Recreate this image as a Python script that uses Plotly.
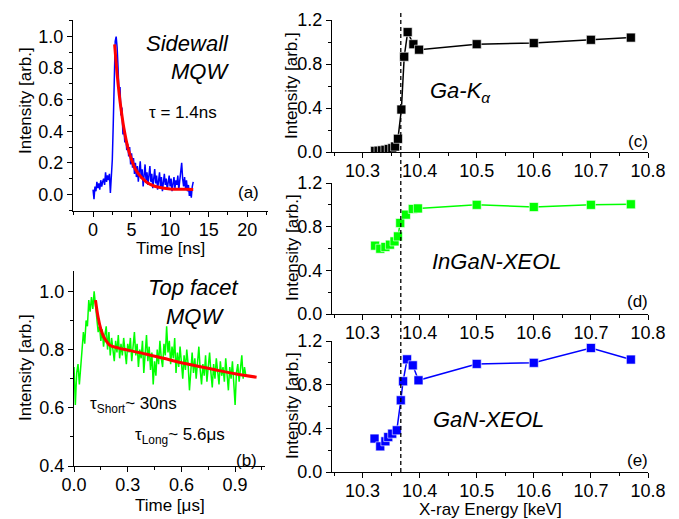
import numpy as np
import plotly.graph_objects as go

# ---------------- data ----------------
# (a) Sidewall MQW transient (time in ns, step 0.125 ns)
a_t0, a_dt = 0.0, 0.125
a_vals = [0.03, -0.03, 0.05, 0.02, 0.08, 0.04, 0.07, 0.03, 0.09, 0.05,
          0.08, 0.10, 0.06, 0.14, 0.08, 0.12, 0.09, 0.13, 0.01, 0.10,
          0.22, 0.45, 0.78, 0.97, 1.00, 0.93, 0.80, 0.62, 0.68, 0.50,
          0.55, 0.38, 0.42, 0.33, 0.36, 0.28, 0.32, 0.24, 0.30, 0.19,
          0.26, 0.17, 0.23, 0.13, 0.20, 0.11, 0.18, 0.08, 0.15, 0.21,
          0.10, 0.16, 0.05, 0.12, 0.19, 0.09, 0.14, 0.06, 0.11, 0.18,
          0.08, 0.13, 0.04, 0.10, 0.16, 0.07, 0.12, 0.03, 0.09, 0.14,
          0.05, 0.11, 0.02, 0.08, 0.13, 0.06, 0.10, 0.03, 0.09, 0.12,
          0.05, 0.10, 0.02, 0.08, 0.11, 0.04, 0.09, 0.06, 0.12, 0.03,
          0.08, 0.15, 0.20, 0.10, 0.05, 0.11, 0.04, 0.09, 0.02, 0.06,
          -0.01, 0.03, -0.02, 0.05, 0.08]
a_fit_t = [2.8, 3.0, 3.25, 3.5, 3.75, 4.0, 4.5, 5.0, 5.5, 6.0, 6.5, 7.0, 8.0, 9.0, 10.0, 11.0, 12.0, 13.0]
a_fit_y = [0.95, 0.83, 0.70, 0.59, 0.50, 0.42, 0.30, 0.22, 0.16, 0.124, 0.097, 0.076, 0.052, 0.041, 0.035, 0.033, 0.032, 0.031]

# (b) Top facet MQW transient (time in us, step 0.0075 us)
b_t0, b_dt = 0.0, 0.0075
b_vals = [0.74, 0.61, 0.72, 0.75, 0.68, 0.73, 0.80, 0.86, 0.82, 0.90,
          0.88, 0.97, 0.93, 0.98, 0.94, 1.00, 0.95, 0.90, 0.86, 0.88,
          0.83, 0.87, 0.81, 0.85, 0.88, 0.80, 0.86, 0.78, 0.84, 0.80,
          0.76, 0.83, 0.79, 0.85, 0.77, 0.82, 0.78, 0.84, 0.80, 0.75,
          0.82, 0.79, 0.84, 0.76, 0.81, 0.86, 0.78, 0.82, 0.74, 0.80,
          0.77, 0.83, 0.72, 0.79, 0.85, 0.76, 0.81, 0.73, 0.79, 0.68,
          0.76, 0.71, 0.80, 0.75, 0.83, 0.77, 0.74, 0.82, 0.78, 0.88,
          0.79, 0.83, 0.75, 0.81, 0.77, 0.84, 0.72, 0.79, 0.74, 0.81,
          0.76, 0.70, 0.78, 0.73, 0.80, 0.75, 0.66, 0.74, 0.79, 0.72,
          0.77, 0.70, 0.76, 0.81, 0.73, 0.68, 0.75, 0.71, 0.78, 0.69,
          0.74, 0.79, 0.72, 0.67, 0.75, 0.70, 0.77, 0.73, 0.68, 0.76,
          0.71, 0.74, 0.69, 0.77, 0.72, 0.66, 0.74, 0.70, 0.76, 0.68,
          0.61, 0.72, 0.75, 0.69, 0.73, 0.78, 0.70, 0.74, 0.71]
b_fit_t = [0.12, 0.135, 0.15, 0.165, 0.18, 0.2, 0.25, 0.3, 0.4, 0.5, 0.6, 0.7, 0.8, 0.9, 1.02]
b_fit_y = [0.97, 0.91, 0.87, 0.845, 0.83, 0.815, 0.805, 0.798, 0.785, 0.77, 0.755, 0.742, 0.729, 0.717, 0.705]

# (c) Ga-K alpha
c_x = [10.322, 10.328, 10.334, 10.340, 10.346, 10.352, 10.357, 10.362, 10.368,
       10.373, 10.379, 10.389, 10.399, 10.5, 10.6, 10.7, 10.77]
c_y = [0.01, 0.012, 0.015, 0.02, 0.027, 0.035, 0.05, 0.12, 0.386,
       0.866, 1.09, 0.98, 0.93, 0.98, 0.99, 1.02, 1.04]

# (d) InGaN-XEOL
d_x = [10.322, 10.331, 10.340, 10.348, 10.356, 10.362, 10.366, 10.376, 10.388,
       10.397, 10.5, 10.6, 10.7, 10.77]
d_y = [0.626, 0.598, 0.614, 0.635, 0.665, 0.711, 0.834, 0.91, 0.962,
       0.967, 1.0, 0.98, 1.0, 1.005]

# (e) GaN-XEOL
e_x = [10.321, 10.331, 10.340, 10.345, 10.352, 10.360, 10.367, 10.371, 10.378,
       10.388, 10.398, 10.5, 10.6, 10.7, 10.77]
e_y = [0.306, 0.235, 0.281, 0.32, 0.351, 0.382, 0.657, 0.831, 1.032,
       0.977, 0.84, 0.99, 1.0, 1.136, 1.03]

edge_energy = 10.367

a_t = a_t0 + a_dt * np.arange(len(a_vals))
b_t = b_t0 + b_dt * np.arange(len(b_vals))

# ---------------- figure ----------------
W, H = 679, 519
FONT = "Arial, Liberation Sans, sans-serif"

def px_x(p):
    return p / W

def px_y(p):
    return 1 - p / H

fig = go.Figure()

fig.add_trace(go.Scatter(x=a_t, y=a_vals, mode="lines", line=dict(color="#0000FF", width=1.5),
                         xaxis="x", yaxis="y", showlegend=False))
fig.add_trace(go.Scatter(x=a_fit_t, y=a_fit_y, mode="lines", line=dict(color="#FF0000", width=3, shape="spline"),
                         xaxis="x", yaxis="y", showlegend=False))
fig.add_trace(go.Scatter(x=b_t, y=b_vals, mode="lines", line=dict(color="#00FF00", width=1.5),
                         xaxis="x2", yaxis="y2", showlegend=False))
fig.add_trace(go.Scatter(x=b_fit_t, y=b_fit_y, mode="lines", line=dict(color="#FF0000", width=3, shape="spline"),
                         xaxis="x2", yaxis="y2", showlegend=False))

mk = dict(symbol="square", size=9, line=dict(width=0.6, color="white"))
fig.add_trace(go.Scatter(x=c_x, y=c_y, mode="lines+markers", line=dict(color="black", width=1.5),
                         marker=dict(color="black", **mk), xaxis="x3", yaxis="y3", showlegend=False))
fig.add_trace(go.Scatter(x=d_x, y=d_y, mode="lines+markers", line=dict(color="#00FF00", width=1.5),
                         marker=dict(color="#00FF00", **mk), xaxis="x4", yaxis="y4", showlegend=False))
fig.add_trace(go.Scatter(x=e_x, y=e_y, mode="lines+markers", line=dict(color="#0000FF", width=1.5),
                         marker=dict(color="#0000FF", **mk), xaxis="x5", yaxis="y5", showlegend=False))

tickfont = dict(family=FONT, size=18, color="black")
titlefont = dict(family=FONT, size=17, color="black")

def ax(**kw):
    base = dict(showline=True, linecolor="black", linewidth=1.3, ticks="outside", ticklen=5,
                tickwidth=1.3, tickcolor="black", showgrid=False, zeroline=False,
                tickfont=tickfont, mirror=False, automargin=False)
    base.update(kw)
    return base

def xax(**kw):
    return ax(ticklabelstandoff=-3, **kw)

minor = lambda d: dict(dtick=d, ticks="outside", ticklen=3, tickcolor="black", tickwidth=1)

ydom_a = [px_y(211), px_y(20)]
ydom_b = [px_y(466), px_y(271)]
xdom_l = [px_x(73), px_x(268)]
xdom_r = [px_x(332), px_x(648)]
ydom_c = [px_y(152), px_y(20)]
ydom_d = [px_y(314), px_y(183)]
ydom_e = [px_y(472), px_y(341)]

xr_r = [10.2465, 10.8]

fig.update_layout(
    width=W, height=H, margin=dict(l=0, r=0, t=0, b=0, autoexpand=False),
    paper_bgcolor="white", plot_bgcolor="white", font=dict(family=FONT, color="black"),
    xaxis=xax(domain=xdom_l, anchor="y", range=[-2.6, 22.7], dtick=5, tick0=0, minor=minor(2.5)),
    yaxis=ax(domain=ydom_a, anchor="x", range=[-0.105, 1.105], dtick=0.2, tick0=0, tickformat=".1f",
             minor=minor(0.1)),
    xaxis2=xax(domain=[px_x(74), px_x(265)], anchor="y2", range=[0, 1.067], dtick=0.3, tick0=0,
               tickformat=".1f", minor=minor(0.15)),
    yaxis2=ax(domain=ydom_b, anchor="x2", range=[0.4, 1.07], dtick=0.2, tick0=0, tickformat=".1f",
              minor=minor(0.1)),
    xaxis3=xax(domain=xdom_r, anchor="y3", range=xr_r, dtick=0.1, tick0=10.3,
               tickformat=".1f", minor=minor(0.05)),
    yaxis3=ax(domain=ydom_c, anchor="x3", range=[0, 1.2], dtick=0.4, tick0=0, tickformat=".1f",
              minor=minor(0.2)),
    xaxis4=xax(domain=xdom_r, anchor="y4", range=xr_r, dtick=0.1, tick0=10.3,
               tickformat=".1f", minor=minor(0.05)),
    yaxis4=ax(domain=ydom_d, anchor="x4", range=[0, 1.2], dtick=0.4, tick0=0, tickformat=".1f",
              minor=minor(0.2)),
    xaxis5=xax(domain=xdom_r, anchor="y5", range=xr_r, dtick=0.1, tick0=10.3,
               tickformat=".1f", minor=minor(0.05)),
    yaxis5=ax(domain=ydom_e, anchor="x5", range=[0, 1.2], dtick=0.4, tick0=0, tickformat=".1f",
              minor=minor(0.2)),
)

# dashed edge line across right panels
fig.add_shape(type="line", xref="x3", yref="paper", x0=edge_energy, x1=edge_energy,
              y0=px_y(472), y1=px_y(12), line=dict(color="black", width=1.3, dash="4px,3px"))

it = dict(family=FONT, size=22, color="black")
nt = dict(family=FONT, size=17, color="black")

def ann(text, x, y, xr, yr, font, **kw):
    fig.add_annotation(text=text, x=x, y=y, xref=xr, yref=yr, showarrow=False, font=font, **kw)

# axis titles placed in paper coordinates
def ptitle(text, xp, yp, angle=0):
    fig.add_annotation(text=text, x=px_x(xp), y=px_y(yp), xref="paper", yref="paper",
                       showarrow=False, font=titlefont, textangle=angle,
                       xanchor="center", yanchor="middle")

ptitle("Intensity [arb.]", 25, 101, -90)
ptitle("Intensity [arb.]", 25, 368, -90)
ptitle("Intensity [arb.]", 292, 86, -90)
ptitle("Intensity [arb.]", 292, 248, -90)
ptitle("Intensity [arb.]", 292, 406, -90)
ptitle("Time [ns]", 170, 248)
ptitle("Time [\u03bcs]", 170, 505)
ptitle("X-ray Energy [keV]", 490, 509)

ann("<i>Sidewall</i>", 12.2, 0.957, "x", "y", it)
ann("<i>MQW</i>", 13.9, 0.78, "x", "y", it)
ann("\u03c4 = 1.4ns", 11.7, 0.52, "x", "y", nt)
ann("(a)", 20.2, 0.01, "x", "y", nt)

ann("<i>Top facet</i>", 0.665, 1.014, "x2", "y2", it)
ann("<i>MQW</i>", 0.675, 0.915, "x2", "y2", it)
ann("\u03c4<sub>Short</sub>~ 30ns", 0.33, 0.61, "x2", "y2", nt)
ann("\u03c4<sub>Long</sub>~ 5.6\u03bcs", 0.592, 0.503, "x2", "y2", nt)
ann("(b)", 0.966, 0.42, "x2", "y2", nt)

ann("<i>Ga-K<sub>\u03b1</sub></i>", 10.471, 0.55, "x3", "y3", it)
ann("(c)", 10.782, 0.092, "x3", "y3", nt)
ann("<i>InGaN-XEOL</i>", 10.535, 0.482, "x4", "y4", it)
ann("(d)", 10.782, 0.115, "x4", "y4", nt)
ann("<i>GaN-XEOL</i>", 10.52, 0.483, "x5", "y5", it)
ann("(e)", 10.782, 0.107, "x5", "y5", nt)

fig.write_html("out.html", config={"displayModeBar": False},
               post_script="document.body.style.margin='0px';document.body.style.overflow='hidden';")
